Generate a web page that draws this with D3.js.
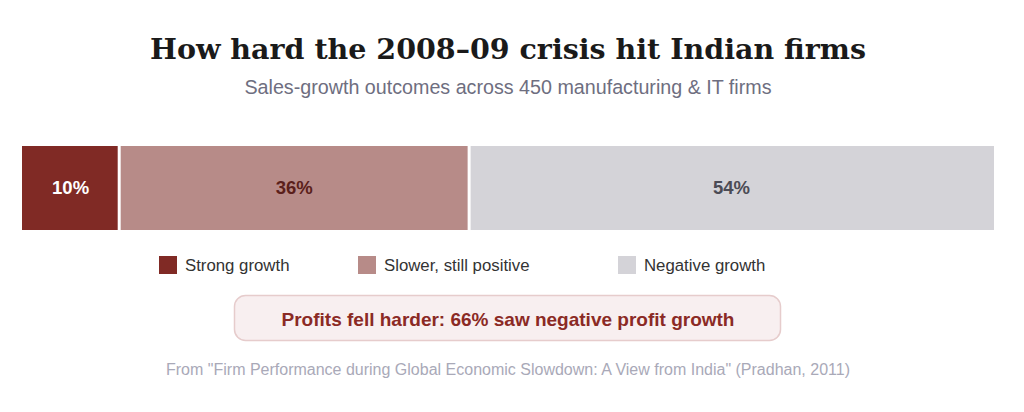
<!DOCTYPE html>
<html>
<head>
<meta charset="utf-8">
<script src="https://cdn.jsdelivr.net/npm/d3@7"></script>
<style>
  html, body { margin: 0; padding: 0; background: #fff; }
  svg { display: block; }
</style>
</head>
<body>
<svg id="canvas"></svg>
<script>
const categories = ["Strong growth", "Slower, still positive", "Negative growth"]
const shares = [10, 36, 54]
const segColors = ["#802a25", "#b78b88", "#d4d3d8"]
const labelColors = ["#ffffff", "#5b1f1b", "#4b4b55"]

const title = "How hard the 2008\u201309 crisis hit Indian firms"
const subtitle = "Sales-growth outcomes across 450 manufacturing & IT firms"
const callout = "Profits fell harder: 66% saw negative profit growth"
const source = "From \"Firm Performance during Global Economic Slowdown: A View from India\" (Pradhan, 2011)"

const width = 1024, height = 412
const cx = 508
const sans = "'Liberation Sans', Arial, Helvetica, sans-serif"

const svg = d3.select("#canvas").attr("width", width).attr("height", height)

svg.append("text")
  .attr("x", cx).attr("y", 59)
  .attr("text-anchor", "middle")
  .style("font-family", "Georgia, 'DejaVu Serif', serif")
  .style("font-weight", "bold")
  .style("font-size", "28.5px")
  .style("fill", "#1a1a1a")
  .text(title)

svg.append("text")
  .attr("x", cx).attr("y", 94)
  .attr("text-anchor", "middle")
  .style("font-family", sans)
  .style("font-size", "19.7px")
  .style("fill", "#6e6e80")
  .text(subtitle)

// stacked bar
let acc = 0
const segs = shares.map((v, i) => {
  const s = { key: categories[i], value: v, start: acc, end: acc + v, i }
  acc += v
  return s
})

const x = d3.scaleLinear().domain([0, d3.sum(shares)]).range([22, 994])
const barY = 146, barH = 84
const gap = 1.5

const bar = svg.append("g").attr("class", "bar")
bar.selectAll("rect")
  .data(segs)
  .enter().append("rect")
  .attr("x", d => x(d.start) + (d.i > 0 ? gap : 0))
  .attr("y", barY)
  .attr("width", d => x(d.end) - x(d.start) - (d.i > 0 ? gap : 0) - (d.i < segs.length - 1 ? gap : 0))
  .attr("height", barH)
  .attr("fill", d => segColors[d.i])

bar.selectAll("text")
  .data(segs)
  .enter().append("text")
  .attr("x", d => (x(d.start) + x(d.end)) / 2)
  .attr("y", barY + barH / 2)
  .attr("dy", "0.35em")
  .attr("text-anchor", "middle")
  .style("font-family", sans)
  .style("font-weight", "bold")
  .style("font-size", "18.5px")
  .style("fill", d => labelColors[d.i])
  .text(d => d.value + "%")

// legend
const legendX = [159, 358, 618]
const legend = svg.append("g").attr("class", "legend")
  .selectAll("g")
  .data(categories)
  .enter().append("g")
  .attr("transform", (d, i) => `translate(${legendX[i]},256)`)

legend.append("rect")
  .attr("width", 18).attr("height", 18)
  .attr("fill", (d, i) => segColors[i])

legend.append("text")
  .attr("x", 26).attr("y", 9)
  .attr("dy", "0.35em")
  .style("font-family", sans)
  .style("font-size", "16.8px")
  .style("fill", "#333")
  .text(d => d)

// callout
svg.append("rect")
  .attr("x", 234.5).attr("y", 295.5)
  .attr("width", 546).attr("height", 45)
  .attr("rx", 11)
  .attr("fill", "#f8eff0")
  .attr("stroke", "#e6cccc")
  .attr("stroke-width", 1.5)

svg.append("text")
  .attr("x", cx).attr("y", 319)
  .attr("dy", "0.35em")
  .attr("text-anchor", "middle")
  .style("font-family", sans)
  .style("font-weight", "bold")
  .style("font-size", "19px")
  .style("fill", "#8b2a25")
  .text(callout)

svg.append("text")
  .attr("x", cx).attr("y", 375)
  .attr("text-anchor", "middle")
  .style("font-family", sans)
  .style("font-size", "16px")
  .style("fill", "#a9a9b8")
  .text(source)
</script>
</body>
</html>
